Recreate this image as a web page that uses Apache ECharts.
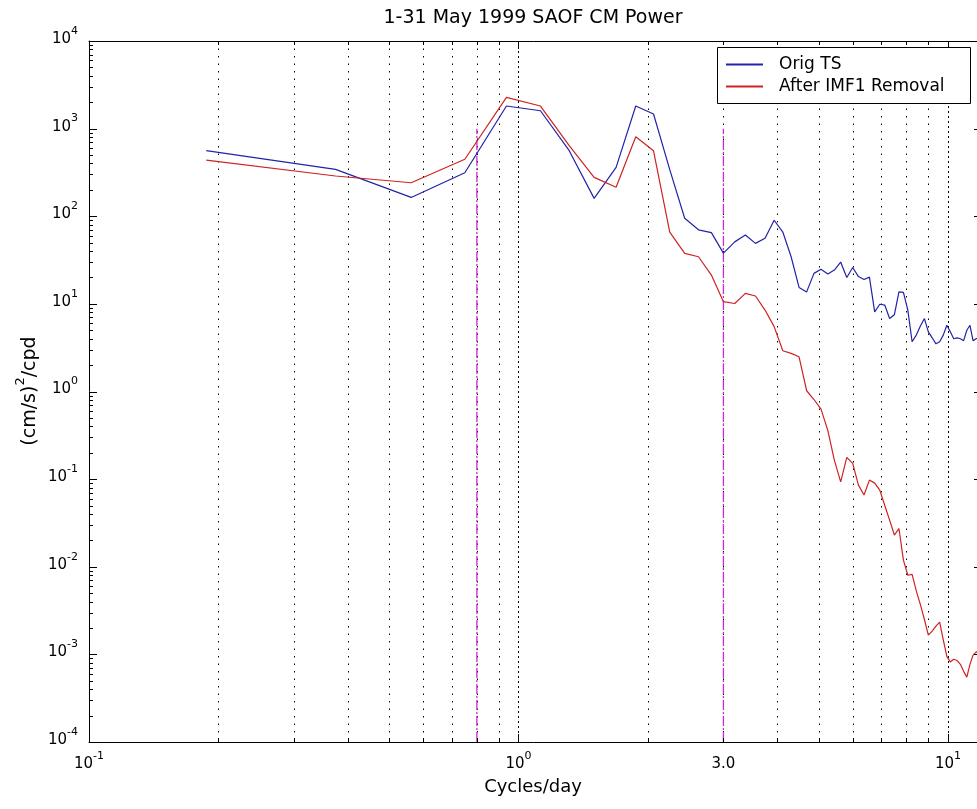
<!DOCTYPE html>
<html><head><meta charset="utf-8">
<script src="https://cdn.jsdelivr.net/npm/echarts@6/dist/echarts.min.js"></script>
<style>html,body{margin:0;padding:0;background:#fff}#c{width:977px;height:809px}</style>
</head><body><div id="c"></div>
<script>
// ---- data ----
const freqs = [0.1875,0.375,0.5625,0.75,0.9375,1.125,1.3125,1.5,1.6875,1.875,2.0625,2.25,2.4375,2.625,2.8125,3.0,
  3.1875,3.375,3.5625,3.75,3.9375,4.125,4.3125,4.5,4.6875,4.875,5.0625,5.25,5.4375,5.625,5.8125,6.0,
  6.1875,6.375,6.5625,6.75,6.9375,7.125,7.3125,7.5,7.6875,7.875,8.0625,8.25,8.4375,8.625,8.8125,9.0,
  9.1875,9.375,9.5625,9.75,9.9375,10.125,10.3125,10.5,10.6875,10.875,11.0625,11.25,11.4375,11.625,11.8125,12.0];
const origTS = [560,343,164,314,1811,1600,560,160,361,1811,1468,340,95,70,65,38,
  51,61,49,56,90,66,34.5,15.4,13.7,22.3,24.8,21.9,24.3,30,20,26,
  20.5,19,20.2,8.1,9.9,9.7,6.8,7.5,13.7,13.5,8.5,3.7,4.4,5.6,6.8,4.8,
  4.1,3.5,3.7,4.4,5.7,4.8,4.0,4.1,4.0,3.8,5.0,5.7,3.8,4.0,4.1,3.9];
const afterIMF1 = [438,288,241,447,2276,1811,640,278,214,809,559,66,37.7,34.5,21.3,10.6,
  10.1,13.2,12.3,8.5,5.5,2.92,2.72,2.49,1.02,0.81,0.63,0.36,0.165,0.093,0.177,0.151,
  0.0855,0.066,0.0975,0.090,0.075,0.050,0.034,0.023,0.0273,0.0119,0.0080,0.0082,0.0053,0.0037,0.0025,0.00166,
  0.00184,0.0021,0.00233,0.00146,0.00095,0.00082,0.00088,0.00085,0.00077,0.00064,0.00055,0.00077,0.00098,0.00106,0.0011,0.00105];
const cutoffFreqs = [0.8, 3.0];
const cutoffRange = [1e-4, 1e3];
const xMin = 0.1, xMax = 12, yMin = 1e-4, yMax = 1e4;
const xMajor = [0.1, 1, 10];
const xMinor = [0.2,0.3,0.4,0.5,0.6,0.7,0.8,0.9,2,3,4,5,6,7,8,9];
const xLabelVals = [0.1, 1, 3, 10];
const xLabelTexts = ['{b|10}{s|-1}', '{b|10}{s|0}', '{b|3.0}', '{b|10}{s|1}'];
const yMajor = [1e-4,1e-3,1e-2,1e-1,1,10,100,1000,10000];
const yExps = ['-4','-3','-2','-1','0','1','2','3','4'];
const yMinorMant = [2,3,4,5,6,7,8,9];
const yMinor = [];
yMajor.slice(0, -1).forEach(d => yMinorMant.forEach(m => yMinor.push(m * d)));

const FONT = '"DejaVu Sans", "Liberation Sans", Arial, sans-serif';
const rich = {
  b: {fontSize: 15, fontFamily: FONT, color: '#000'},
  s: {fontSize: 11, fontFamily: FONT, color: '#000', padding: [0, 0, 16, 0]}
};
const richName = {
  b: {fontSize: 19, fontFamily: FONT, color: '#000'},
  s: {fontSize: 13, fontFamily: FONT, color: '#000', padding: [0, 0, 18, 0]}
};

const chart = echarts.init(document.getElementById('c'), null, {renderer: 'canvas'});
const crisp = v => Math.round(v) + 0.5;

function gridSeries(vals, dash) {
  return {
    type: 'custom', silent: true, clip: false, z: 1,
    data: vals.map(v => [v, yMin]),
    renderItem: (params, api) => {
      const cs = params.coordSys;
      const x = crisp(api.coord([api.value(0), api.value(1)])[0]);
      return {type: 'line', shape: {x1: x, y1: cs.y, x2: x, y2: cs.y + cs.height},
        style: {stroke: '#000', lineWidth: 1, lineDash: dash}};
    }
  };
}
function xTickSeries(vals, len) {
  return {
    type: 'custom', silent: true, clip: false, z: 6,
    data: vals.map(v => [v, yMin]),
    renderItem: (params, api) => {
      const cs = params.coordSys;
      const x = crisp(api.coord([api.value(0), api.value(1)])[0]);
      const yb = Math.round(cs.y + cs.height), yt = Math.round(cs.y);
      return {type: 'group', children: [
        {type: 'line', shape: {x1: x, y1: yb, x2: x, y2: yb - len}, style: {stroke: '#000', lineWidth: 1}},
        {type: 'line', shape: {x1: x, y1: yt, x2: x, y2: yt + len}, style: {stroke: '#000', lineWidth: 1}}
      ]};
    }
  };
}
function yTickSeries(vals, len) {
  return {
    type: 'custom', silent: true, clip: false, z: 6,
    data: vals.map(v => [xMin, v]),
    renderItem: (params, api) => {
      const cs = params.coordSys;
      const y = crisp(api.coord([api.value(0), api.value(1)])[1]);
      const xl = Math.round(cs.x), xr = Math.round(cs.x + cs.width);
      return {type: 'group', children: [
        {type: 'line', shape: {x1: xl, y1: y, x2: xl + len, y2: y}, style: {stroke: '#000', lineWidth: 1}},
        {type: 'line', shape: {x1: xr, y1: y, x2: xr - len, y2: y}, style: {stroke: '#000', lineWidth: 1}}
      ]};
    }
  };
}

const series = [
  gridSeries(xMinor, [1.5, 6]),
  gridSeries(xMajor.slice(1), [2, 3]),
  xTickSeries(xMajor, 8), xTickSeries(xMinor, 4),
  yTickSeries(yMajor, 8), yTickSeries(yMinor, 4),
  {
    type: 'custom', silent: true, clip: false, z: 6,
    data: xLabelVals.map((v, i) => [v, yMin, i]),
    renderItem: (params, api) => {
      const cs = params.coordSys;
      const p = api.coord([api.value(0), api.value(1)]);
      return {type: 'text', x: p[0], y: cs.y + cs.height + 22,
        style: {text: xLabelTexts[api.value(2)], rich, align: 'center', verticalAlign: 'middle'}};
    }
  },
  {
    type: 'custom', silent: true, clip: false, z: 6,
    data: yMajor.map((v, i) => [xMin, v, i]),
    renderItem: (params, api) => {
      const cs = params.coordSys;
      const p = api.coord([api.value(0), api.value(1)]);
      return {type: 'text', x: cs.x - 11, y: p[1] - 2,
        style: {text: '{b|10}{s|' + yExps[api.value(2)] + '}', rich, align: 'right', verticalAlign: 'middle'}};
    }
  },
  ...cutoffFreqs.map(f => ({
    type: 'line', silent: true, symbol: 'none', z: 3,
    data: [[f, cutoffRange[0]], [f, cutoffRange[1]]],
    lineStyle: {color: '#d028d0', width: 1.3, type: [10, 2, 2, 2]}
  })),
  {
    name: 'Orig TS', type: 'line', symbol: 'none', z: 4,
    data: freqs.map((f, i) => [f, origTS[i]]),
    lineStyle: {color: '#2323a8', width: 1.2}, itemStyle: {color: '#2323a8'}
  },
  {
    name: 'After IMF1 Removal', type: 'line', symbol: 'none', z: 4,
    data: freqs.map((f, i) => [f, afterIMF1[i]]),
    lineStyle: {color: '#cf2323', width: 1.2}, itemStyle: {color: '#cf2323'}
  }
];

chart.setOption({
  animation: false,
  backgroundColor: '#fff',
  grid: {left: 89, top: 41, width: 893, height: 701, containLabel: false, outerBoundsMode: 'none'},
  xAxis: [
    {type: 'log', logBase: 10, min: xMin, max: xMax, position: 'bottom',
      axisLine: {show: true, lineStyle: {color: '#000', width: 1}}, axisTick: {show: false},
      axisLabel: {show: false}, splitLine: {show: false}, minorTick: {show: false}},
    {type: 'log', logBase: 10, min: xMin, max: xMax, position: 'top',
      axisLine: {show: true, lineStyle: {color: '#000', width: 1}}, axisTick: {show: false},
      axisLabel: {show: false}, splitLine: {show: false}}
  ],
  yAxis: [
    {type: 'log', logBase: 10, min: yMin, max: yMax, position: 'left',
      axisLine: {show: true, lineStyle: {color: '#000', width: 1}}, axisTick: {show: false},
      axisLabel: {show: false}, splitLine: {show: false}},
    {type: 'log', logBase: 10, min: yMin, max: yMax, position: 'right',
      axisLine: {show: true, lineStyle: {color: '#000', width: 1}}, axisTick: {show: false},
      axisLabel: {show: false}, splitLine: {show: false}}
  ],
  legend: {
    data: ['Orig TS', 'After IMF1 Removal'],
    orient: 'vertical', left: 721, top: 51, z: 20,
    icon: 'rect', itemWidth: 37, itemHeight: 2, itemGap: 5,
    textStyle: {fontSize: 17, fontFamily: FONT, color: '#000', padding: [0, 0, 0, 11]},
    selectedMode: false
  },
  graphic: [
    {type: 'rect', z: 15, shape: {x: 717.5, y: 47.5, width: 253, height: 56},
      style: {fill: '#fff', stroke: '#000', lineWidth: 1}},
    {type: 'text', x: 533, y: 18, style: {text: '1-31 May 1999 SAOF CM Power', font: '19px ' + FONT, fill: '#000', align: 'center', verticalAlign: 'middle'}},
    {type: 'text', x: 533, y: 787, style: {text: 'Cycles/day', font: '18px ' + FONT, fill: '#000', align: 'center', verticalAlign: 'middle'}},
    {type: 'text', x: 30, y: 391, rotation: Math.PI / 2,
      style: {text: '{b|(cm/s)}{s|2}{b|/cpd}', rich: richName, align: 'center', verticalAlign: 'middle'}}
  ],
  series
});
</script></body></html>
